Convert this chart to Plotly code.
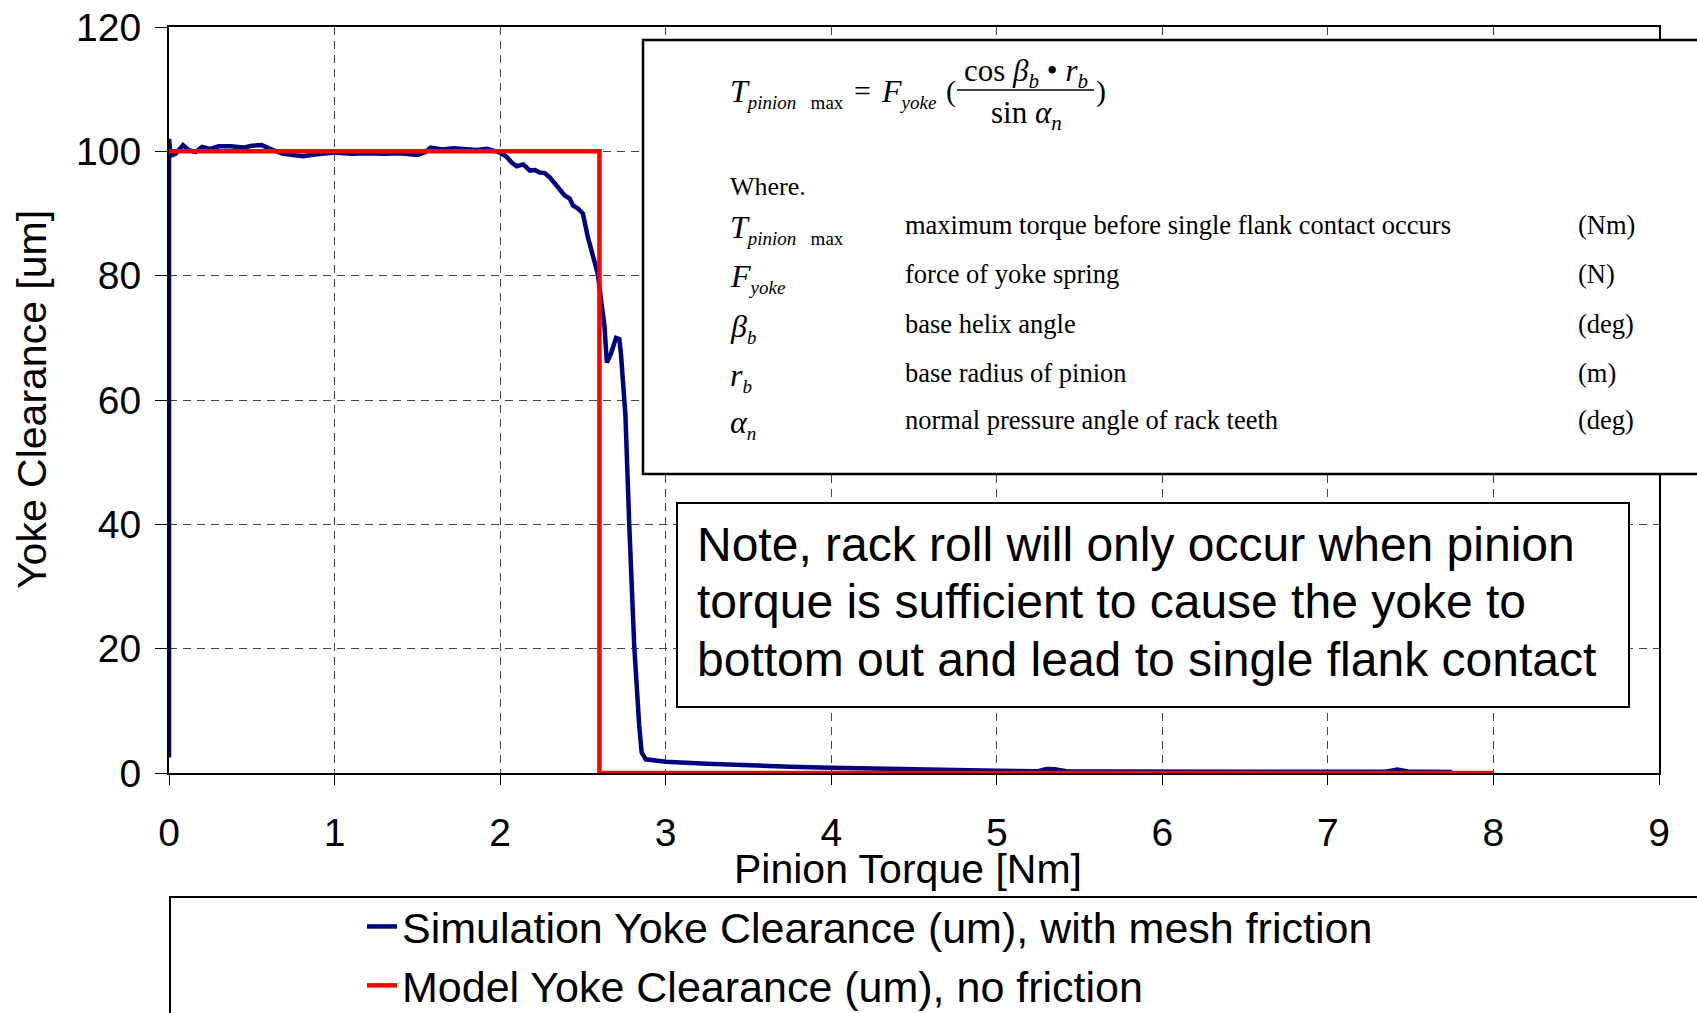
import plotly.graph_objects as go

# Simulated yoke clearance with mesh friction (torque in Nm, clearance in um)
torque_sim = [0.0, 0.0, 0.01, 0.04, 0.085, 0.12, 0.16, 0.2, 0.25, 0.3, 0.37, 0.45,
              0.5, 0.56, 0.61, 0.65, 0.69, 0.75, 0.81, 0.88, 0.94, 1.0, 1.1, 1.2,
              1.3, 1.4, 1.5, 1.55, 1.58, 1.65, 1.72, 1.79, 1.86, 1.92, 1.97, 2.0,
              2.04, 2.07, 2.10, 2.14, 2.18, 2.21, 2.24, 2.27, 2.30, 2.34, 2.37, 2.39,
              2.42, 2.44, 2.47, 2.50, 2.53, 2.56, 2.59, 2.61, 2.63, 2.645, 2.67, 2.70,
              2.72, 2.73, 2.757, 2.78, 2.81, 2.84, 2.855, 2.88, 3.0, 3.25, 3.5, 3.75,
              4.0, 4.25, 4.5, 4.75, 5.0, 5.25, 5.3, 5.35, 5.42, 5.6, 6.0, 6.5,
              7.0, 7.35, 7.42, 7.48, 7.6, 7.75]
clearance_sim = [2.5, 102.0, 99.3, 99.6, 101.0, 100.2, 99.9, 100.7, 100.4, 100.8, 100.8, 100.6,
                 100.9, 101.0, 100.4, 99.9, 99.6, 99.4, 99.2, 99.5, 99.6, 99.8, 99.6, 99.7,
                 99.6, 99.7, 99.4, 99.9, 100.6, 100.3, 100.5, 100.4, 100.2, 100.4, 100.1, 99.8,
                 99.1, 98.2, 97.6, 97.9, 96.9, 97.0, 96.6, 96.5, 95.8, 94.5, 93.5, 92.9,
                 92.4, 91.3, 90.8, 90.0, 86.2, 83.5, 80.3, 76.0, 72.0, 66.0, 67.5, 70.0,
                 69.8, 67.4, 57.5, 40.0, 20.5, 7.7, 3.3, 2.2, 1.8, 1.5, 1.2, 1.0,
                 0.85, 0.7, 0.55, 0.45, 0.35, 0.3, 0.65, 0.6, 0.3, 0.25, 0.2, 0.2,
                 0.2, 0.2, 0.55, 0.25, 0.2, 0.15]

# Frictionless model: full clearance until the single-flank torque limit
torque_model = [0.0, 2.6, 2.6, 8.0]
clearance_model = [100.0, 100.0, 0.0, 0.0]

x_ticks = [0, 1, 2, 3, 4, 5, 6, 7, 8, 9]
y_ticks = [0, 20, 40, 60, 80, 100, 120]

series_names = ["Simulation Yoke Clearance (um), with mesh friction",
                "Model Yoke Clearance (um), no friction"]
x_title = "Pinion Torque [Nm]"
y_title = "Yoke Clearance [um]"
note_lines = ["Note, rack roll will only occur when pinion",
              "torque is sufficient to cause the yoke to",
              "bottom out and lead to single flank contact"]


def sub(txt, size=19, italic=True):
    inner = f"<i>{txt}</i>" if italic else txt
    return f"<sub><span style='font-size:{size}px'>{inner}</span></sub>"


# Symbol table for the formula box
sym_rows = ["<i>T</i>" + sub("pinion") + sub("   max", italic=False),
            "<i>F</i>" + sub("yoke"),
            "<i>β</i>" + sub("b"),
            "<i>r</i>" + sub("b"),
            "<i>α</i>" + sub("n")]
desc_rows = ["maximum torque before single flank contact occurs",
             "force of yoke spring",
             "base helix angle",
             "base radius of pinion",
             "normal pressure angle of rack teeth"]
unit_rows = ["(Nm)", "(N)", "(deg)", "(m)", "(deg)"]

# Page geometry (pixels)
W, H = 1697, 1013
ML, MR, MT, MB = 169, 38, 27, 240
PW = W - ML - MR
PH = H - MT - MB


def px(x):
    return (x - ML) / PW


def py(y):
    return (H - MB - y) / PH


SANS = "Liberation Sans, Arial, sans-serif"
SERIF = "Liberation Serif, Times New Roman, serif"

fig = go.Figure()
fig.add_trace(go.Scatter(x=torque_sim, y=clearance_sim, mode="lines",
                         name=series_names[0],
                         line=dict(color="#000080", width=4.5)))
fig.add_trace(go.Scatter(x=torque_model, y=clearance_model, mode="lines",
                         name=series_names[1],
                         line=dict(color="#FF0000", width=4.5)))

axis_common = dict(
    showline=True, linecolor="black", linewidth=2, mirror=True,
    showgrid=True, gridcolor="#444444", gridwidth=1, griddash="8px,6px",
    zeroline=False, ticks="outside", tickcolor="black", tickwidth=1,
    tickfont=dict(family=SANS, size=39, color="black"),
)
fig.update_xaxes(range=[0, 9], tickvals=x_ticks, ticklen=10,
                 ticklabelstandoff=14, **axis_common)
fig.update_yaxes(range=[0, 120], tickvals=y_ticks, ticklen=12,
                 ticklabelstandoff=6, **axis_common)

shapes = []
annotations = []

# Formula box
shapes.append(dict(type="rect", xref="paper", yref="paper",
                   x0=px(643), x1=px(1720), y0=py(40), y1=py(474),
                   line=dict(color="black", width=2.5), fillcolor="white", layer="above"))
# Note box
shapes.append(dict(type="rect", xref="paper", yref="paper",
                   x0=px(677), x1=px(1629), y0=py(503), y1=py(707),
                   line=dict(color="black", width=2), fillcolor="white", layer="above"))
# Legend frame
shapes.append(dict(type="rect", xref="paper", yref="paper",
                   x0=px(170), x1=px(1720), y0=py(897), y1=py(1030),
                   line=dict(color="black", width=2), fillcolor="rgba(0,0,0,0)", layer="above"))


def note(text, x, y, size, family=SERIF, xanchor="left"):
    annotations.append(dict(text=text, xref="paper", yref="paper", x=px(x), y=py(y),
                            xanchor=xanchor, yanchor="middle", showarrow=False,
                            font=dict(family=family, size=size, color="black")))


# Formula: T_pinion max = F_yoke ( cos(beta_b) * r_b / sin(alpha_n) )
note(sym_rows[0], 728, 93, 32)
note("=", 862, 91, 30, xanchor="center")
note("<i>F</i>" + sub("yoke"), 879, 93, 32)
note("(", 951, 91, 30, xanchor="center")
note("cos <i>β</i>" + sub("b", 21) + " • <i>r</i>" + sub("b", 21), 1026, 73, 31, xanchor="center")
note("sin <i>α</i>" + sub("n", 21), 1026, 115, 31, xanchor="center")
note(")", 1101, 91, 30, xanchor="center")
shapes.append(dict(type="line", xref="paper", yref="paper",
                   x0=px(957), x1=px(1094), y0=py(90), y1=py(90),
                   line=dict(color="black", width=1.5), layer="above"))

note("Where.", 728, 186, 26)
row_y = [225, 274, 324, 373, 420]
for sym, desc, unit, ry in zip(sym_rows, desc_rows, unit_rows, row_y):
    note(sym, 728, ry + 4, 32)
    note(desc, 903, ry, 26.5)
    note(unit, 1576, ry, 26.5)

# Note text, one annotation per line
for line, ny in zip(note_lines, [544, 601, 659]):
    note(line, 695, ny, 48, family=SANS)

# Axis titles
annotations.append(dict(text=x_title, xref="paper", yref="paper",
                        x=px(908), y=py(869), xanchor="center", yanchor="middle",
                        showarrow=False, font=dict(family=SANS, size=41, color="black")))
annotations.append(dict(text=y_title, xref="paper", yref="paper",
                        x=px(32), y=py(400), xanchor="center", yanchor="middle",
                        textangle=-90, showarrow=False,
                        font=dict(family=SANS, size=41, color="black")))

fig.update_layout(
    width=W, height=H,
    margin=dict(l=ML, r=MR, t=MT, b=MB, pad=0, autoexpand=False),
    paper_bgcolor="white", plot_bgcolor="white",
    showlegend=True,
    legend=dict(x=px(362), y=py(892), xanchor="left", yanchor="top",
                bgcolor="rgba(0,0,0,0)", borderwidth=0,
                font=dict(family=SANS, size=43, color="black"),
                tracegroupgap=0, itemwidth=30),
    shapes=shapes, annotations=annotations,
)

fig.write_html("out.html")
